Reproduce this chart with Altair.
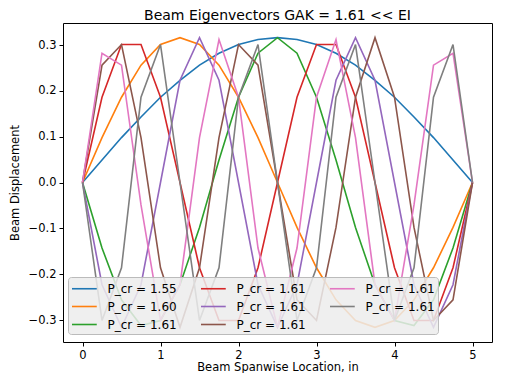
import altair as alt
import pandas as pd

x_vals = [0, 0.25, 0.5, 0.75, 1.0, 1.25, 1.5, 1.75, 2.0, 2.25, 2.5,
          2.75, 3.0, 3.25, 3.5, 3.75, 4.0, 4.25, 4.5, 4.75, 5.0]

mode1 = [0, 0.049, 0.098, 0.143, 0.186, 0.223, 0.256, 0.282, 0.301, 0.312, 0.316,
         0.312, 0.301, 0.282, 0.256, 0.223, 0.186, 0.143, 0.098, 0.049, 0]
mode2 = [0, 0.098, 0.186, 0.256, 0.301, 0.316, 0.301, 0.256, 0.186, 0.098, 0,
         -0.098, -0.186, -0.256, -0.301, -0.316, -0.301, -0.256, -0.186, -0.098, 0]
mode3 = [0, -0.143, -0.256, -0.312, -0.301, -0.223, -0.098, 0.049, 0.186, 0.282, 0.316,
         0.282, 0.186, 0.049, -0.098, -0.223, -0.301, -0.312, -0.256, -0.143, 0]
mode4 = [0, 0.186, 0.301, 0.301, 0.186, 0, -0.186, -0.301, -0.301, -0.186, 0,
         0.186, 0.301, 0.301, 0.186, 0, -0.186, -0.301, -0.301, -0.186, 0]
mode5 = [0, -0.223, -0.316, -0.223, 0, 0.223, 0.316, 0.223, 0, -0.223, -0.316,
         -0.223, 0, 0.223, 0.316, 0.223, 0, -0.223, -0.316, -0.223, 0]
mode6 = [0, 0.256, 0.301, 0.098, -0.186, -0.316, -0.186, 0.098, 0.301, 0.256, 0,
         -0.256, -0.301, -0.098, 0.186, 0.316, 0.186, -0.098, -0.301, -0.256, 0]
mode7 = [0, 0.282, 0.256, -0.049, -0.301, -0.223, 0.098, 0.312, 0.186, -0.143, -0.316,
         -0.143, 0.186, 0.312, 0.098, -0.223, -0.301, -0.049, 0.256, 0.282, 0]
mode8 = [0, -0.301, -0.186, 0.186, 0.301, 0, -0.301, -0.186, 0.186, 0.301, 0,
         -0.301, -0.186, 0.186, 0.301, 0, -0.301, -0.186, 0.186, 0.301, 0]

series = [mode1, mode2, mode3, mode4, mode5, mode6, mode7, mode8]
keys = ["s1", "s2", "s3", "s4", "s5", "s6", "s7", "s8"]
labels = ["P_cr = 1.55", "P_cr = 1.60", "P_cr = 1.61", "P_cr = 1.61",
          "P_cr = 1.61", "P_cr = 1.61", "P_cr = 1.61", "P_cr = 1.61"]
colors = ["#1f77b4", "#ff7f0e", "#2ca02c", "#d62728",
          "#9467bd", "#8c564b", "#e377c2", "#7f7f7f"]

rows = []
for k, ys in zip(keys, series):
    for xv, yv in zip(x_vals, ys):
        rows.append({"x": xv, "y": yv, "mode": k})
df = pd.DataFrame(rows)

label_map = {k: l for k, l in zip(keys, labels)}
label_expr = "{" + ",".join(f"'{k}':'{v}'" for k, v in label_map.items()) + "}[datum.value]"

font = "DejaVu Sans"

chart = alt.Chart(df).mark_line(strokeWidth=1.6).encode(
    x=alt.X("x:Q", scale=alt.Scale(domain=[-0.25, 5.25], nice=False, zero=False),
            axis=alt.Axis(values=[0, 1, 2, 3, 4, 5], format="d",
                          title="Beam Spanwise Location, in")),
    y=alt.Y("y:Q", scale=alt.Scale(domain=[-0.348, 0.348], nice=False, zero=False),
            axis=alt.Axis(values=[-0.3, -0.2, -0.1, 0.0, 0.1, 0.2, 0.3],
                          labelExpr="replace(format(datum.value, '.1f'), '-', '\u2212')",
                          title="Beam Displacement")),
    color=alt.Color("mode:N",
                    scale=alt.Scale(domain=keys, range=colors),
                    legend=alt.Legend(
                        orient="none", legendX=5, legendY=254,
                        columns=3, title=None,
                        labelExpr=label_expr, symbolType="M-1,0H2.3",
                        symbolSize=225, symbolStrokeWidth=1.6,
                        labelFont=font, labelFontSize=12, labelColor="black",
                        labelOffset=19.5, columnPadding=20, rowPadding=3,
                        padding=3,
                        fillColor="rgba(236,236,236,0.85)",
                        strokeColor="#bbbbbb", cornerRadius=3)),
    detail="mode:N",
).properties(
    width=429, height=319,
    title=alt.TitleParams("Beam Eigenvectors GAK = 1.61 << EI", font=font,
                          fontSize=14, fontWeight="normal", color="black",
                          offset=0),
    autosize=alt.AutoSizeParams(type="none"),
    padding={"left": 55, "top": 15, "right": 6, "bottom": 31},
).configure_view(
    stroke="black", strokeWidth=1
).configure_axis(
    grid=False, domain=False, tickColor="black", tickSize=4, tickWidth=1,
    labelFont=font, labelFontSize=11.5, labelColor="black", labelPadding=3,
    titleFont=font, titleFontSize=11.5, titleFontWeight="normal", titleColor="black",
).configure_axisX(titlePadding=1).configure_axisY(titlePadding=8)

chart.save("out.html", embed_options={"renderer": "svg", "actions": False})
